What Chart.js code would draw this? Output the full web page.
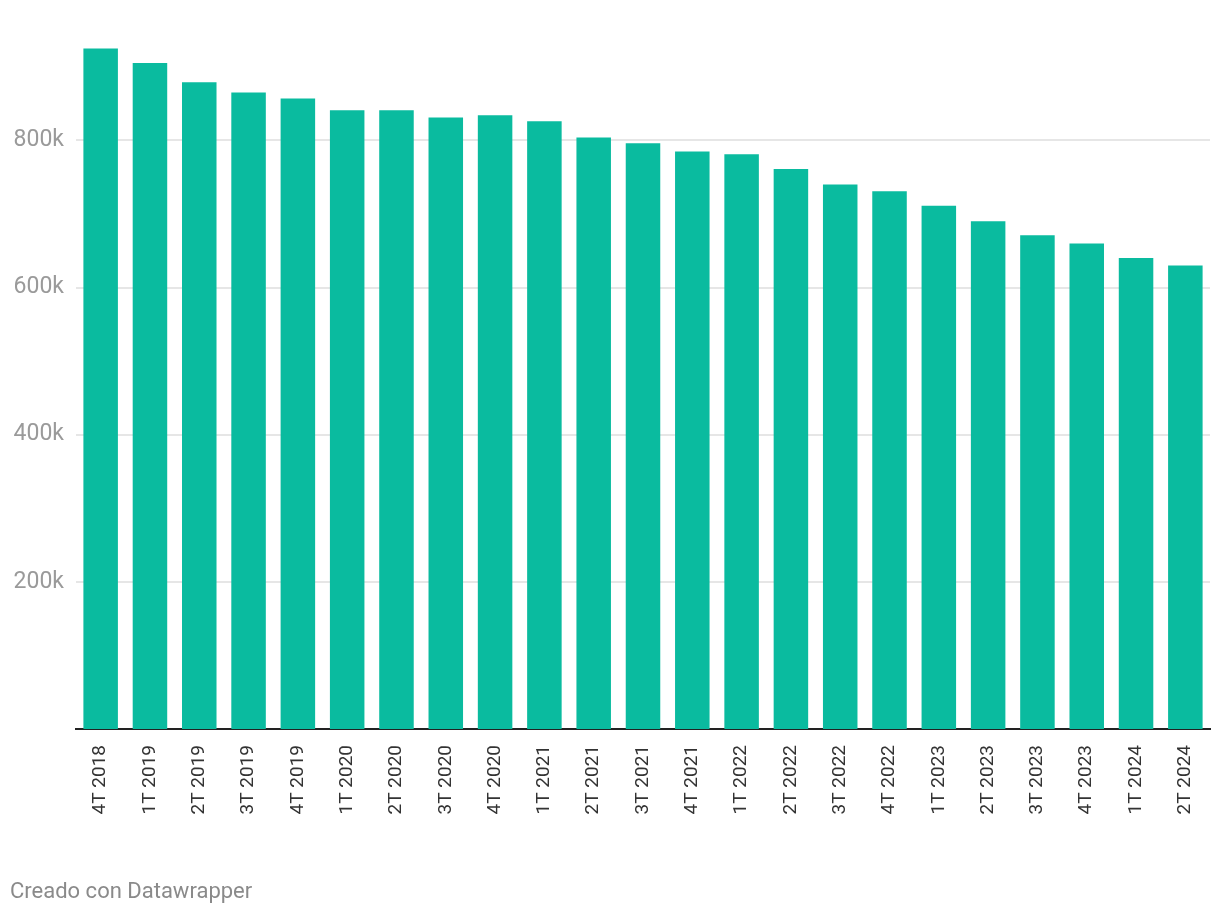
<!DOCTYPE html>
<html>
<head>
<meta charset="utf-8">
<script src="https://cdn.jsdelivr.net/npm/chart.js@4/dist/chart.umd.min.js"></script>
<style>
  body { margin: 0; background: #fff; font-family: Roboto, sans-serif; }
  .wrap { position: relative; width: 1220px; height: 914px; }
  .footer { position: absolute; left: 10px; top: 878px; font-size: 22px; line-height: 26px; color: #8a8a8a; }
</style>
</head>
<body>
<div class="wrap">
  <canvas id="chart"></canvas>
  <div class="footer">Creado con Datawrapper</div>
</div>
<script>
const quarters = ['4T 2018', '1T 2019', '2T 2019', '3T 2019', '4T 2019', '1T 2020', '2T 2020', '3T 2020',
  '4T 2020', '1T 2021', '2T 2021', '3T 2021', '4T 2021', '1T 2022', '2T 2022', '3T 2022', '4T 2022',
  '1T 2023', '2T 2023', '3T 2023', '4T 2023', '1T 2024', '2T 2024'];
const values = [925000, 905000, 879000, 865000, 857000, 841000, 841000, 831000, 834000, 826000, 804000,
  796000, 785000, 781000, 761000, 740000, 731000, 711000, 690000, 671000, 660000, 640000, 630000];
const yTicks = [200000, 400000, 600000, 800000];

const ctx = document.getElementById('chart').getContext('2d');

new Chart(ctx, {
  type: 'bar',
  data: {
    labels: quarters,
    datasets: [{
      data: values,
      backgroundColor: '#0abb9f',
      barPercentage: 0.7,
      categoryPercentage: 1.0
    }]
  },
  options: {
    responsive: true,
    maintainAspectRatio: false,
    animation: false,
    layout: { padding: { top: 30, right: 10, bottom: 65, left: 0 } },
    scales: {
      x: {
        grid: { display: false },
        border: { color: '#222', width: 2 },
        ticks: {
          color: '#333',
          font: { family: 'Roboto', size: 19 },
          minRotation: 90,
          maxRotation: 90,
          padding: 8,
          autoSkip: false
        },
        afterFit: function(scale) { scale.height = 120; }
      },
      y: {
        min: 0,
        max: 950000,
        border: { display: false },
        grid: { color: '#e6e6e6', lineWidth: 2, drawTicks: false },
        afterBuildTicks: function(scale) {
          scale.ticks = yTicks.map(v => ({ value: v }));
        },
        afterFit: function(scale) { scale.width = 76; },
        ticks: {
          color: '#9a9a9a',
          font: { family: 'Roboto', size: 23 },
          padding: 12,
          callback: function(value) { return (value / 1000) + 'k'; }
        }
      }
    },
    plugins: {
      legend: { display: false },
      tooltip: { enabled: false }
    }
  }
});
</script>
</body>
</html>
